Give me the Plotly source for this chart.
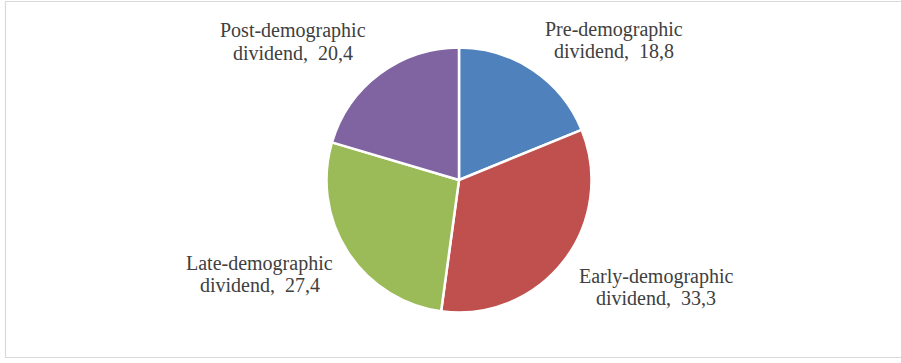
import plotly.graph_objects as go

categories = ["Pre-demographic dividend", "Early-demographic dividend",
              "Late-demographic dividend", "Post-demographic dividend"]
values = [18.8, 33.3, 27.4, 20.4]
colors = ["#4F81BD", "#C0504D", "#9BBB59", "#8064A2"]

W, H = 901, 363
cx, cy, r = 459, 180, 132.5

fig = go.Figure(go.Pie(
    labels=categories,
    values=values,
    sort=False,
    direction="clockwise",
    rotation=0,
    marker=dict(colors=colors, line=dict(color="white", width=2.5)),
    textinfo="none",
    hoverinfo="label+value",
    showlegend=False,
    domain=dict(x=[(cx - r) / W, (cx + r) / W], y=[1 - (cy + r) / H, 1 - (cy - r) / H]),
))

# label placement (pixel centre x, first-line centre y) for each category
label_pos = [(614, 29), (655.5, 276), (259.5, 263), (293, 31)]
line_gap = 22
for cat, v, (lx, ly) in zip(categories, values, label_pos):
    name = cat.replace(" dividend", "")
    lines = [name, f"dividend,  {str(v).replace('.', ',')}"]
    for i, t in enumerate(lines):
        fig.add_annotation(x=lx / W, y=1 - (ly + i * line_gap) / H, xref="paper", yref="paper",
                           text=t, showarrow=False, xanchor="center", yanchor="middle",
                           font=dict(family="Liberation Serif", size=20, color="#404040"))

fig.add_shape(type="rect", xref="paper", yref="paper",
              x0=5.5 / W, x1=1.2, y0=1 - 357.5 / H, y1=1 - 1.5 / H,
              line=dict(color="#D9D9D9", width=1.2), fillcolor="rgba(0,0,0,0)")

fig.update_layout(width=W, height=H, margin=dict(l=0, r=0, t=0, b=0),
                  paper_bgcolor="white", plot_bgcolor="white")
fig.write_html("out.html", config={"displayModeBar": False},
               post_script="document.body.style.margin='0';")
